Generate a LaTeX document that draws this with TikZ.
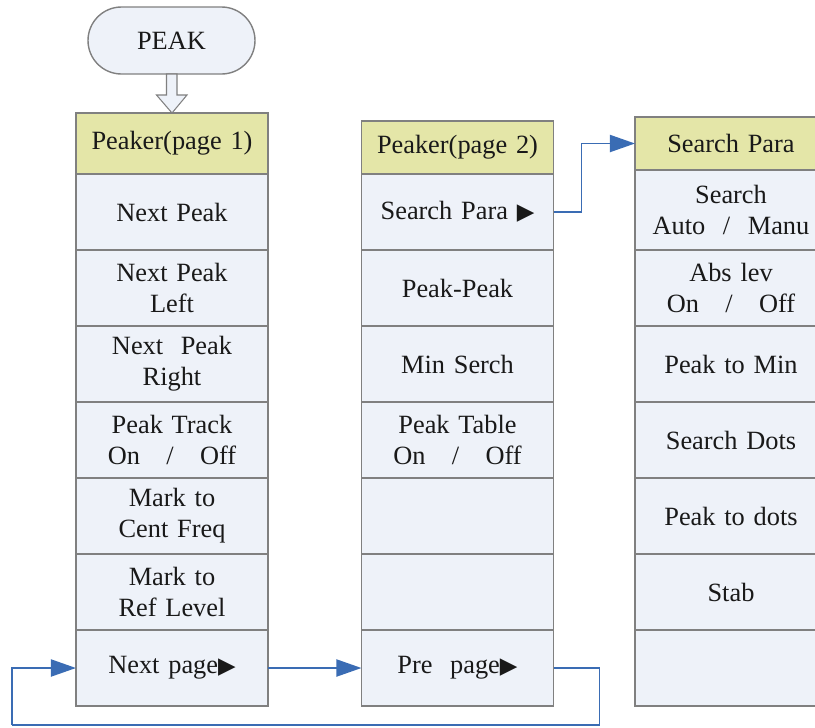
\documentclass[tikz,border=0pt]{standalone}
\usepackage{fontspec}
\setmainfont{LiberationSerif}[Extension=.ttf, UprightFont=*-Regular, BoldFont=*-Bold]
\newfontfamily\symfont{DejaVu Sans}
\usetikzlibrary{positioning,calc,arrows.meta}
\definecolor{headfill}{RGB}{228,230,168}
\definecolor{cellfill}{RGB}{238,242,249}
\definecolor{framegray}{RGB}{128,128,128}
\definecolor{linkblue}{RGB}{58,108,180}
\newcommand{\ptri}{{\symfont\fontsize{13}{15}\selectfont ▶}}

\begin{document}
\begin{tikzpicture}[node distance=0pt,
    menubox/.style={rectangle, draw=framegray, line width=0.8pt, outer sep=0pt, inner sep=2pt,
        minimum width=3.8cm, text width=3.7cm, align=center, text=black!90,
        font=\fontsize{15}{17.6}\selectfont},
    menuhead/.style={menubox, fill=headfill, minimum height=1.06cm},
    menucell/.style={menubox, fill=cellfill, minimum height=1.52cm},
    hollowarrow/.style={draw=framegray, line width=0.6pt, fill=cellfill},
    bluearrow/.style={draw=linkblue, line width=1.1pt, -{Triangle[length=0.5cm,width=0.34cm]}},
    bluelink/.style={draw=linkblue, line width=1.1pt}]
    \useasboundingbox (0,0) rectangle (16.3,-14.54);
    \clip (0,0) rectangle (16.3,-14.54);

    % start key
    \node [menubox, fill=cellfill, rounded corners=0.67cm, minimum width=3.34cm, text width=3.1cm,
           minimum height=1.34cm] at (3.43,-0.81) (peak) {PEAK};

    % page 1
    \node [menuhead, minimum height=1.22cm] at (3.44,-2.87) (pgonehead) {Peaker(page 1)};
    \node [menucell, below=of pgonehead] (nextpeak)  {Next Peak};
    \node [menucell, below=of nextpeak]  (nextleft)  {Next Peak\\Left};
    \node [menucell, below=of nextleft]  (nextright) {Next\ \ Peak\\Right};
    \node [menucell, below=of nextright] (pktrack)   {Peak Track\\On\quad/\quad Off};
    \node [menucell, below=of pktrack]   (mkcent)    {Mark to\\Cent Freq};
    \node [menucell, below=of mkcent]    (mkref)     {Mark to\\Ref Level};
    \node [menucell, below=of mkref]     (nextpage)  {Next page\ptri};

    % page 2
    \node [menuhead] at (9.15,-2.95) (pgtwohead) {Peaker(page 2)};
    \node [menucell, below=of pgtwohead] (srchpara) {Search Para \ptri};
    \node [menucell, below=of srchpara]  (pkpk)     {Peak-Peak};
    \node [menucell, below=of pkpk]      (minsrch)  {Min Serch};
    \node [menucell, below=of minsrch]   (pktable)  {Peak Table\\On\quad/\quad Off};
    \node [menucell, below=of pktable]   (blanka)   {};
    \node [menucell, below=of blanka]    (blankb)   {};
    \node [menucell, below=of blankb]    (prepage)  {Pre\ \ page\ptri};

    % search para
    \node [menuhead] at (14.62,-2.87) (sphead) {Search Para};
    \node [menucell, minimum height=1.6cm, below=of sphead] (srchmode) {Search\\Auto\ \ /\ \ Manu};
    \node [menucell, below=of srchmode] (abslev)   {Abs lev\\On\quad/\quad Off};
    \node [menucell, below=of abslev]   (pkmin)    {Peak to Min};
    \node [menucell, below=of pkmin]    (srchdots) {Search Dots};
    \node [menucell, below=of srchdots] (pkdots)   {Peak to dots};
    \node [menucell, below=of pkdots]   (stab)     {Stab};
    \node [menucell, below=of stab]     (blankc)   {};

    % links
    \draw [hollowarrow] ($(peak.south)+(-0.1,0)$) -- ++(0,-0.42) -- ++(-0.2,0) -- (pgonehead.north)
        -- ++(0.3,0.36) -- ++(-0.2,0) -- ++(0,0.42) -- cycle;
    \draw [bluearrow] (srchpara.east) -- ++(0.56,0) |- (sphead.west);
    \draw [bluearrow] (nextpage.east) -- (prepage.west);
    \coordinate (loopbot) at (0.24,-14.5);
    \draw [bluelink] (prepage.east) -- ++(0.92,0) |- (loopbot);
    \draw [bluearrow] (loopbot) |- (nextpage.west);
\end{tikzpicture}
\end{document}
